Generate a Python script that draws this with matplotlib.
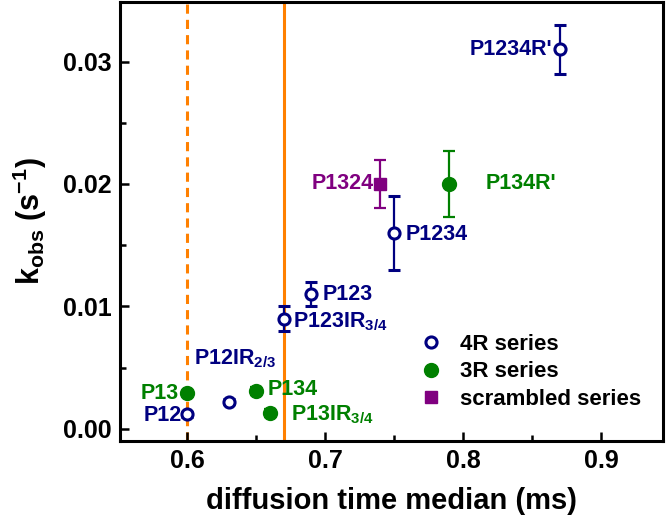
import numpy as np
import matplotlib
matplotlib.use('Agg')
import matplotlib.pyplot as plt
from matplotlib.lines import Line2D

plt.rcParams['font.family'] = ['Liberation Sans', 'DejaVu Sans']
plt.rcParams['font.weight'] = 'bold'
plt.rcParams['mathtext.fontset'] = 'custom'
plt.rcParams['mathtext.rm'] = 'Liberation Sans:bold'
plt.rcParams['mathtext.bf'] = 'Liberation Sans:bold'
plt.rcParams['mathtext.it'] = 'Liberation Sans:bold'

# %% Data
# 4R series (open circles)
x_4r = [0.60, 0.63, 0.67, 0.69, 0.75, 0.87]
y_4r = [0.0012, 0.0022, 0.0090, 0.0110, 0.0160, 0.0310]
e_4r = [0.0002, 0.0002, 0.0010, 0.0010, 0.0030, 0.0020]
lab_4r = ['P12', r'P12IR$_{2/3}$', r'P123IR$_{3/4}$', 'P123', 'P1234', "P1234R'"]

# 3R series (filled circles)
x_3r = [0.60, 0.65, 0.66, 0.79]
y_3r = [0.0029, 0.0031, 0.0013, 0.0200]
e_3r = [0.0002, 0.0003, 0.0003, 0.0027]
lab_3r = ['P13', 'P134', r'P13IR$_{3/4}$', "P134R'"]

# scrambled series (square)
x_sc = [0.74]
y_sc = [0.0200]
e_sc = [0.0020]
lab_sc = ['P1324']

navy = '#000080'
green = '#008000'
purple = '#800080'
orange = '#FF8000'

# %% Plot
fig = plt.figure(figsize=(6.68, 5.27), dpi=100)
ax = fig.add_axes([0.180, 0.163, 0.8125, 0.834])

ax.axvline(0.60, color=orange, lw=2.2, ls=(0, (3, 2)), zorder=1)
ax.axvline(0.67, color=orange, lw=2.2, zorder=1)

ax.errorbar(x_4r, y_4r, yerr=e_4r, fmt='o', ms=8, mfc='white', mec=navy,
            mew=2.2, color=navy, ecolor=navy, elinewidth=1.6, capsize=4,
            capthick=1.6, zorder=3)
ax.errorbar(x_3r, y_3r, yerr=e_3r, fmt='o', ms=10, mfc=green, mec=green,
            color=green, ecolor=green, elinewidth=1.6, capsize=4,
            capthick=1.6, zorder=3)
ax.errorbar(x_sc, y_sc, yerr=e_sc, fmt='s', ms=8, mfc=purple, mec=purple,
            color=purple, ecolor=purple, elinewidth=1.6, capsize=4,
            capthick=1.6, zorder=3)

# point labels: (text offset in points, ha)
fs = 15.5
off_4r = [((-4, -1), 'right'), ((-25, 31), 'left'), ((7, -2), 'left'),
          ((8, 0), 'left'), ((8, -1), 'left'), ((-5, 0), 'right')]
for x, y, t, (o, ha) in zip(x_4r, y_4r, lab_4r, off_4r):
    ax.annotate(t, (x, y), xytext=o, textcoords='offset points', ha=ha,
                va='center', color=navy, fontsize=fs, fontweight='bold')

off_3r = [((-6, 0), 'right'), ((8, 1), 'left'), ((15, -1), 'left'),
          ((26, 0), 'left')]
for x, y, t, (o, ha) in zip(x_3r, y_3r, lab_3r, off_3r):
    ax.annotate(t, (x, y), xytext=o, textcoords='offset points', ha=ha,
                va='center', color=green, fontsize=fs, fontweight='bold')

for x, y, t in zip(x_sc, y_sc, lab_sc):
    ax.annotate(t, (x, y), xytext=(-5, 0), textcoords='offset points',
                ha='right', va='center', color=purple, fontsize=fs,
                fontweight='bold')

ax.set_xlim(0.5515, 0.945)
ax.set_ylim(-0.001, 0.0349)
ax.set_xticks([0.6, 0.7, 0.8, 0.9])
ax.set_xticklabels(['0.6', '0.7', '0.8', '0.9'])
ax.set_xticks([0.65, 0.75, 0.85], minor=True)
ax.set_yticks([0.0, 0.01, 0.02, 0.03])
ax.set_yticklabels(['0.00', '0.01', '0.02', '0.03'])
ax.set_yticks([0.005, 0.015, 0.025], minor=True)

ax.tick_params(which='major', direction='in', length=6.5, width=1.8,
               labelsize=18, pad=6)
ax.tick_params(which='minor', direction='in', length=4, width=1.8)
ax.tick_params(top=False, right=False)
for lab in ax.get_xticklabels() + ax.get_yticklabels():
    lab.set_fontweight('bold')
for s in ax.spines.values():
    s.set_linewidth(2.2)

ax.set_xlabel('diffusion time median (ms)', fontsize=21, fontweight='bold',
              labelpad=10)
ax.set_ylabel(r'k$_{\mathrm{obs}}$ (s$^{\mathrm{-1}}$)', fontsize=22,
              fontweight='bold', labelpad=10)

handles = [
    Line2D([], [], ls='none', marker='o', ms=8, mfc='white', mec=navy, mew=2.2),
    Line2D([], [], ls='none', marker='o', ms=10, mfc=green, mec=green),
    Line2D([], [], ls='none', marker='s', ms=8, mfc=purple, mec=purple),
]
ax.legend(handles, ['4R series', '3R series', 'scrambled series'],
          loc='upper left', bbox_to_anchor=(0.515, 0.29), frameon=False,
          handlelength=1.0, handletextpad=0.8,
          labelspacing=0.3, prop={'weight': 'bold', 'size': 16})

fig.savefig('out.png', dpi=100)
